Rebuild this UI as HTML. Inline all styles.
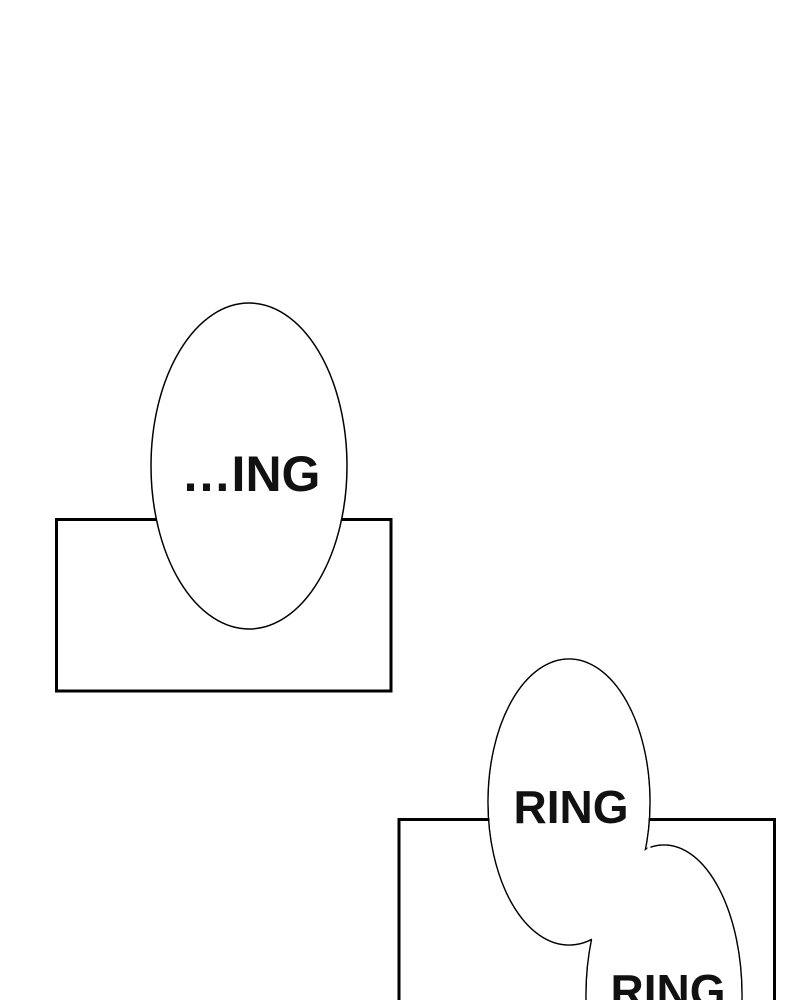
<!DOCTYPE html>
<html><head><meta charset="utf-8"><style>
html,body{margin:0;padding:0;background:#fff;width:800px;height:1000px;overflow:hidden;}
svg{display:block;}
text{font-family:"Liberation Sans",sans-serif;font-weight:bold;fill:#111;}
</style></head><body>
<svg width="800" height="1000" viewBox="0 0 800 1000">
<rect width="800" height="1000" fill="#fff"/>
<rect x="56.5" y="519.5" width="334.5" height="171.5" fill="#fff" stroke="#000" stroke-width="3"/>
<ellipse cx="249" cy="466" rx="98" ry="163" fill="#fff" stroke="#000" stroke-width="1.5"/>
<text x="251" y="491" font-size="50" text-anchor="middle">…ING</text>

<rect x="399" y="819.5" width="375.5" height="185" fill="#fff" stroke="#000" stroke-width="3"/>
<ellipse cx="664" cy="995" rx="78" ry="150" fill="none" stroke="#000" stroke-width="1.5"/>
<ellipse cx="569" cy="802" rx="81" ry="143" fill="none" stroke="#000" stroke-width="1.5"/>
<ellipse cx="664" cy="995" rx="77.2" ry="149.2" fill="#fff"/>
<ellipse cx="569" cy="802" rx="80.2" ry="142.2" fill="#fff"/>
<polygon points="585,930 650,845 660,900 600,950" fill="#fff"/>
<text x="571" y="823" font-size="46" text-anchor="middle">RING</text>
<text x="668" y="1007" font-size="46" text-anchor="middle">RING</text>
</svg>
</body></html>
